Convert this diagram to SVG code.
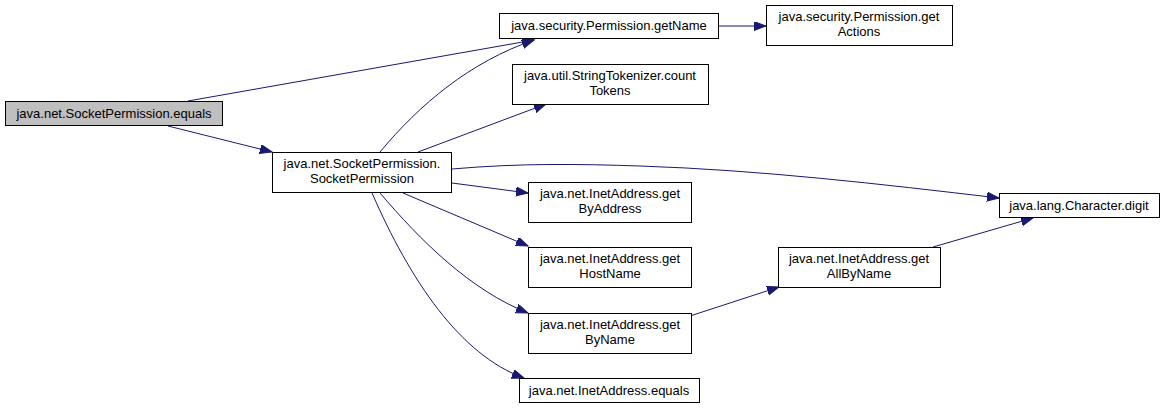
<svg xmlns="http://www.w3.org/2000/svg" width="1165" height="410" viewBox="0 0 1165 410">
<style>
.n rect{fill:#ffffff;stroke:#000000;stroke-width:1}
.n.cur rect{fill:#bfbfbf}
.n text{font-family:"Liberation Sans",Arial,sans-serif;font-size:13px;fill:#000000;text-anchor:middle}
.e path{fill:none;stroke:#191970;stroke-width:1;marker-end:url(#ah)}
</style>
<defs>
<marker id="ah" markerUnits="userSpaceOnUse" markerWidth="14" markerHeight="10" refX="12" refY="4.5" orient="auto">
<path d="M0,0 L12,4.5 L0,9 z" fill="#191970" stroke="#191970" stroke-width="1"/>
</marker>
</defs>
<rect width="1165" height="410" fill="#ffffff"/>
<g id="connectors" class="e">
<path d="M188,101 L534,40"/>
<path d="M168,126 L272,152"/>
<path d="M380,152 C420,104 470,62 534,40"/>
<path d="M418,152 L546,104"/>
<path d="M452,169 C520,163 580,164 640,166 C760,170 880,184 999,198"/>
<path d="M452,183 L528,193"/>
<path d="M403,193 L528,246"/>
<path d="M380,193 C420,240 470,290 528,313"/>
<path d="M372,193 C410,280 460,355 524,378"/>
<path d="M690,316 L779,287"/>
<path d="M933,247 L1033,218"/>
<path d="M719,26 L766,26"/>
</g>
<g id="node-equals" class="n cur">
<rect x="5.5" y="101.5" width="217" height="24"/>
<text x="114" y="118">java.net.SocketPermission.equals</text>
</g>
<g id="node-socketpermission" class="n">
<rect x="272.5" y="152.5" width="179" height="40"/>
<text x="362" y="168">java.net.SocketPermission.</text>
<text x="362" y="183">SocketPermission</text>
</g>
<g id="node-getname" class="n">
<rect x="499.5" y="13.5" width="219" height="25"/>
<text x="609" y="30">java.security.Permission.getName</text>
</g>
<g id="node-getactions" class="n">
<rect x="766.5" y="5.5" width="186" height="40"/>
<text x="859" y="21">java.security.Permission.get</text>
<text x="859" y="36">Actions</text>
</g>
<g id="node-counttokens" class="n">
<rect x="512.5" y="64.5" width="196" height="40"/>
<text x="610" y="80">java.util.StringTokenizer.count</text>
<text x="610" y="95">Tokens</text>
</g>
<g id="node-digit" class="n">
<rect x="999.5" y="193.5" width="160" height="24"/>
<text x="1079" y="210">java.lang.Character.digit</text>
</g>
<g id="node-getbyaddress" class="n">
<rect x="528.5" y="182.5" width="163" height="40"/>
<text x="610" y="198">java.net.InetAddress.get</text>
<text x="610" y="213">ByAddress</text>
</g>
<g id="node-gethostname" class="n">
<rect x="528.5" y="247.5" width="163" height="40"/>
<text x="610" y="263">java.net.InetAddress.get</text>
<text x="610" y="278">HostName</text>
</g>
<g id="node-getbyname" class="n">
<rect x="528.5" y="313.5" width="163" height="40"/>
<text x="610" y="329">java.net.InetAddress.get</text>
<text x="610" y="344">ByName</text>
</g>
<g id="node-getallbyname" class="n">
<rect x="778.5" y="247.5" width="162" height="40"/>
<text x="859" y="263">java.net.InetAddress.get</text>
<text x="859" y="278">AllByName</text>
</g>
<g id="node-inetequals" class="n">
<rect x="519.5" y="378.5" width="180" height="24"/>
<text x="609" y="395">java.net.InetAddress.equals</text>
</g>
</svg>
